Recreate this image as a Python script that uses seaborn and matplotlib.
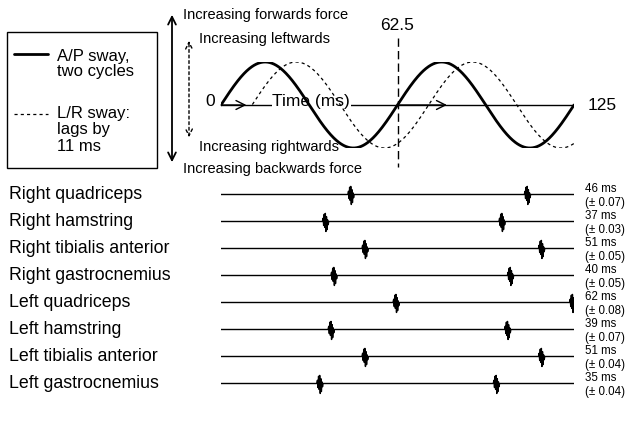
import numpy as np
import pandas as pd
import matplotlib
matplotlib.use('Agg')
import matplotlib.pyplot as plt
import seaborn as sns
from matplotlib.patches import Rectangle, FancyArrowPatch
from matplotlib.lines import Line2D

# sway cycle (schematic)
cycle_ms = 62.5
total_ms = 125
lr_lag_ms = 11

# emg onset per muscle
muscles = ['Right quadriceps', 'Right hamstring', 'Right tibialis anterior',
           'Right gastrocnemius', 'Left quadriceps', 'Left hamstring',
           'Left tibialis anterior', 'Left gastrocnemius']
latency_ms = [46, 37, 51, 40, 62, 39, 51, 35]
latency_sd = ['0.07', '0.03', '0.05', '0.05', '0.08', '0.07', '0.04', '0.04']

# shape of one burst (ms offset, height in rows, + is down)
burst_dt = [-1.1, -0.85, -0.65, -0.45, -0.25, -0.05,
            0.15, 0.35, 0.55, 0.75, 0.95, 1.15]
burst_amp = [0, -0.12, 0.15, -0.27, 0.22, -0.3,
             0.37, -0.18, 0.3, -0.06, 0.12, 0]

sns.set_theme(style='white')
plt.rcParams['font.family'] = ['Liberation Sans', 'DejaVu Sans']
plt.rcParams['text.color'] = 'black'

W, H = 629, 421
fig = plt.figure(figsize=(W / 100, H / 100), dpi=100)


def fx(x):
    return x / W


def fy(y):
    return 1 - y / H


# ---- sway waves ----
ax_w = fig.add_axes([fx(221), fy(148), 353 / W, 86 / H])
t = np.linspace(0, total_ms, 800)
t_lr = t[t >= lr_lag_ms]
df_wave = pd.concat([
    pd.DataFrame({'t': t, 'y': np.sin(2 * np.pi * t / cycle_ms), 'sway': 'A/P'}),
    pd.DataFrame({'t': t_lr, 'y': np.sin(2 * np.pi * (t_lr - lr_lag_ms) / cycle_ms), 'sway': 'L/R'}),
])
sns.lineplot(data=df_wave, x='t', y='y', hue='sway', style='sway', size='sway',
             palette={'A/P': 'black', 'L/R': 'black'},
             dashes={'A/P': '', 'L/R': (2.5, 2.5)},
             sizes={'A/P': 2.0, 'L/R': 0.9},
             legend=False, ax=ax_w, zorder=3)
ax_w.set_xlim(0, total_ms)
ax_w.set_ylim(-1, 1)
ax_w.axis('off')

# time axis with open arrow heads
ax_w.plot([0, total_ms], [0, 0], color='black', lw=1, zorder=1)
for a, b in [(0, 9), (cycle_ms, 80)]:
    ax_w.annotate('', xy=(b, 0), xytext=(a, 0),
                  arrowprops=dict(arrowstyle='->', lw=1, color='black',
                                  mutation_scale=16, shrinkA=0, shrinkB=0))
ax_w.text(32, 0.08, 'Time (ms)', ha='center', va='center', fontsize=12.5, zorder=2,
          bbox=dict(facecolor='white', edgecolor='none', pad=0.5))
ax_w.text(-2.3, 0.08, '0', ha='right', va='center', fontsize=12.5)
ax_w.text(130, 0.0, '125', ha='left', va='center', fontsize=12.5)

# half-cycle marker
ax_w.plot([cycle_ms, cycle_ms], [1.55, -1.44], color='black', lw=1,
          linestyle=(0, (6, 3)), clip_on=False)
ax_w.text(cycle_ms, 1.85, '62.5', ha='center', va='center', fontsize=12.5)

# force / direction arrows
fig.add_artist(FancyArrowPatch((fx(172), fy(165)), (fx(172), fy(12)),
                               transform=fig.transFigure, arrowstyle='<->',
                               mutation_scale=14, lw=1.3, color='black'))
fig.add_artist(FancyArrowPatch((fx(189), fy(140)), (fx(189), fy(38)),
                               transform=fig.transFigure, arrowstyle='<->',
                               mutation_scale=12, lw=1.0, color='black',
                               linestyle=(0, (2, 2))))
fig.text(fx(183), fy(15), 'Increasing forwards force', ha='left', va='center', fontsize=10.5)
fig.text(fx(199), fy(39), 'Increasing leftwards', ha='left', va='center', fontsize=10.5)
fig.text(fx(199), fy(147), 'Increasing rightwards', ha='left', va='center', fontsize=10.5)
fig.text(fx(183), fy(169), 'Increasing backwards force', ha='left', va='center', fontsize=10.5)

# key box
fig.add_artist(Rectangle((fx(7), fy(168)), 150 / W, 136 / H, transform=fig.transFigure,
                         fill=False, lw=1, edgecolor='black'))
fig.add_artist(Line2D([fx(14), fx(48)], [fy(54), fy(54)], transform=fig.transFigure,
                      color='black', lw=2))
fig.add_artist(Line2D([fx(14), fx(48)], [fy(114), fy(114)], transform=fig.transFigure,
                      color='black', lw=0.9, linestyle=(0, (2.5, 2.5))))
fig.text(fx(57), fy(49), 'A/P sway,\ntwo cycles', ha='left', va='top', fontsize=12,
         linespacing=1.0)
fig.text(fx(57), fy(106), 'L/R sway:\nlags by\n11 ms', ha='left', va='top', fontsize=12,
         linespacing=1.12)

# ---- emg traces ----
ax_e = fig.add_axes([fx(221), fy(397), 353 / W, 216 / H])
rows = []
for i, lat in enumerate(latency_ms):
    onsets = [lat, lat + cycle_ms]
    tt = [0.0]
    yy = [i]
    for on in onsets:
        for d, a in zip(burst_dt, burst_amp):
            tt.append(on + d)
            yy.append(i + a)
    tt.append(total_ms)
    yy.append(i)
    rows.append(pd.DataFrame({'t': tt, 'y': yy, 'row': i}))
df_emg = pd.concat(rows)
sns.lineplot(data=df_emg, x='t', y='y', units='row', estimator=None, sort=False,
             color='black', lw=1.0, ax=ax_e)
ax_e.set_xlim(0, total_ms)
ax_e.set_ylim(len(muscles) - 0.5, -0.5)
ax_e.axis('off')

for i, (m, lat, sd) in enumerate(zip(muscles, latency_ms, latency_sd)):
    ax_e.text(-212 / 353 * total_ms, i, m, ha='left', va='center', fontsize=12.8)
    ax_e.text(128.9, i + 0.05, f'{lat} ms\n(\u00b1 {sd})', ha='left', va='center',
              fontsize=8.3, linespacing=1.25)

fig.savefig('out.png', dpi=100)
